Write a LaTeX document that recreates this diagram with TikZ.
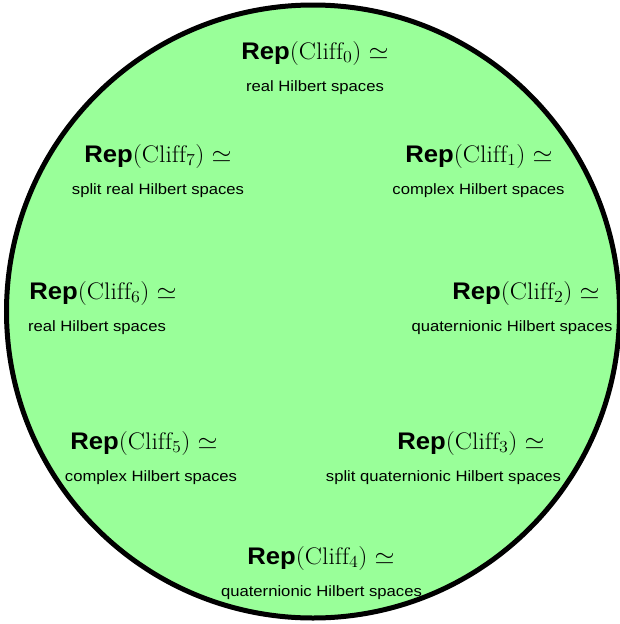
\RequirePackage{fix-cm}
\documentclass[tikz,border=0pt]{standalone}
\usepackage{fontspec}
\newfontfamily\lsans{Liberation Sans}
\definecolor{circfill}{RGB}{153,255,153}
\newcommand\titlestretch[1]{\scalebox{1.07}[1]{#1}}
\newcommand\substretch[1]{\scalebox{1.11}[1]{#1}}
\newcommand\reptitle[1]{\titlestretch{\fontsize{24}{28}\selectfont{\lsans\bfseries Rep}$(\mathrm{Cliff}_{#1})\simeq$}}
\newcommand\repsub[1]{\substretch{\fontsize{15}{18}\selectfont\lsans #1}}
\tikzset{
  disk/.style={circle, draw=black, line width=5pt, fill=circfill, inner sep=0pt, minimum size=613pt},
  lab/.style={anchor=base, inner sep=0pt, text=black}
}
\begin{document}
\begin{tikzpicture}[x=1pt,y=-1pt]
\useasboundingbox (0,0) rectangle (619,624);
\node[disk] (disk) at (313,311.5) {};
% Cliff 0
\node[lab] (t0) at (315,59) {\reptitle{0}};
\node[lab] (s0) at (315,91) {\repsub{real Hilbert spaces}};
% Cliff 7
\node[lab] (t7) at (158,162) {\reptitle{7}};
\node[lab] (s7) at (158,194) {\repsub{split real Hilbert spaces}};
% Cliff 1
\node[lab] (t1) at (479,162) {\reptitle{1}};
\node[lab] (s1) at (478.5,194) {\repsub{complex Hilbert spaces}};
% Cliff 6
\node[lab] (t6) at (103,299) {\reptitle{6}};
\node[lab] (s6) at (97,331) {\repsub{real Hilbert spaces}};
% Cliff 2
\node[lab] (t2) at (526,299) {\reptitle{2}};
\node[lab] (s2) at (512,331) {\repsub{quaternionic Hilbert spaces}};
% Cliff 5
\node[lab] (t5) at (144,449) {\reptitle{5}};
\node[lab] (s5) at (151,481) {\repsub{complex Hilbert spaces}};
% Cliff 3
\node[lab] (t3) at (471,449) {\reptitle{3}};
\node[lab] (s3) at (443.5,481) {\repsub{split quaternionic Hilbert spaces}};
% Cliff 4
\node[lab] (t4) at (321,564) {\reptitle{4}};
\node[lab] (s4) at (321.5,596) {\repsub{quaternionic Hilbert spaces}};
\end{tikzpicture}
\end{document}
